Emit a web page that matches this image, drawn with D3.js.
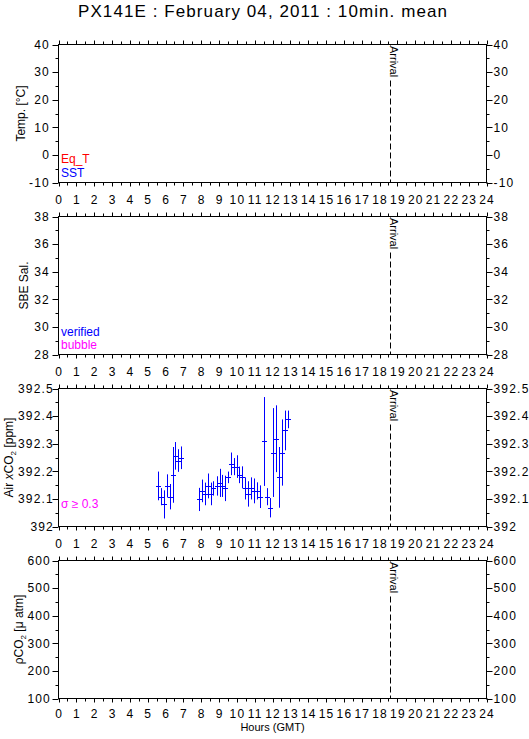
<!DOCTYPE html>
<html><head><meta charset="utf-8">
<script src="https://cdn.jsdelivr.net/npm/d3@7/dist/d3.min.js"></script>
<style>
body{margin:0;background:#fff}
svg text{font-family:"Liberation Sans",Arial,Helvetica,sans-serif}
</style>
</head><body>
<svg id="c" width="529" height="739"></svg>
<script>
// ---- data ----
const titleText = "PX141E : February 04, 2011 : 10min. mean";
const hourTicks = d3.range(0, 25);
const arrivalHour = 18.6;

const tempTicks = [-10, 0, 10, 20, 30, 40];
const salTicks = [28, 30, 32, 34, 36, 38];
const xco2Ticks = [392, 392.1, 392.2, 392.3, 392.4, 392.5];
const xco2TickLabels = ["392", "392.1", "392.2", "392.3", "392.4", "392.5"];
const pco2Ticks = [100, 200, 300, 400, 500, 600];

const xco2Hours = [5.58, 5.74, 5.89, 6.07, 6.23, 6.40, 6.55, 6.71, 6.86,
  7.89, 8.06, 8.21, 8.37, 8.54, 8.69, 8.86, 9.03, 9.19, 9.36, 9.51,
  9.68, 9.85, 10.00, 10.14, 10.31, 10.48, 10.65, 10.80, 10.97, 11.11,
  11.28, 11.54, 11.69, 11.86, 12.03, 12.20, 12.35, 12.55, 12.70, 12.87];
const xco2Values = [392.147, 392.108, 392.080, 392.147, 392.108, 392.187, 392.256, 392.239, 392.249,
  392.098, 392.129, 392.118, 392.147, 392.118, 392.138, 392.147, 392.158, 392.147, 392.138, 392.178,
  392.227, 392.217, 392.217, 392.187, 392.178, 392.138, 392.118, 392.138, 392.129, 392.129,
  392.108, 392.308, 392.108, 392.068, 392.268, 392.318, 392.178, 392.268, 392.348, 392.388];
const xco2Errors = [0.052, 0.031, 0.051, 0.042, 0.046, 0.101, 0.050, 0.041, 0.041,
  0.042, 0.041, 0.041, 0.045, 0.041, 0.026, 0.035, 0.051, 0.040, 0.046, 0.021,
  0.041, 0.031, 0.041, 0.030, 0.040, 0.040, 0.046, 0.040, 0.045, 0.031,
  0.041, 0.161, 0.031, 0.035, 0.161, 0.121, 0.110, 0.120, 0.072, 0.032];

// ---- layout ----
const svg = d3.select("#c");
const left = 58.5, right = 486.5, ph = 138;
const x = d3.scaleLinear().domain([0, 24]).range([left, right]);
const fmt = v => String(+v.toFixed(1));

const panels = [
  {top: 44.5, ticks: tempTicks, labels: tempTicks.map(fmt), minor: 5, title: "Temp. [°C]", titleX: 25, labelRight: 50, xlab: 21},
  {top: 216.5, ticks: salTicks, labels: salTicks.map(fmt), minor: 1, title: "SBE Sal.", titleX: 28, labelRight: 50, xlab: 21},
  {top: 388.5, ticks: xco2Ticks, labels: xco2TickLabels, minor: 0.05, title: "xco2", titleX: 12.5, labelRight: 54, xlab: 21},
  {top: 560.5, ticks: pco2Ticks, labels: pco2Ticks.map(fmt), minor: 50, title: "pco2", titleX: 23, labelRight: 51, xlab: 19}
];

svg.append("text").attr("x", 262.5).attr("y", 17).attr("text-anchor", "middle")
  .attr("font-size", 17).attr("textLength", 369).attr("lengthAdjust", "spacing")
  .text(titleText);

panels.forEach((p, i) => {
  const bottom = p.top + ph;
  const lo = p.ticks[0], hi = p.ticks[p.ticks.length - 1];
  const y = d3.scaleLinear().domain([lo, hi]).range([bottom, p.top]);
  p.y = y;
  const g = svg.append("g");
  g.append("rect").attr("x", left).attr("y", p.top).attr("width", right - left).attr("height", ph)
    .attr("fill", "none").attr("stroke", "#000").attr("stroke-width", 1);

  // x ticks (half-hour), outward on top and bottom
  const xt = d3.range(0, 24.01, 0.5);
  xt.forEach(h => {
    const len = (Math.abs(h - Math.round(h)) < 1e-6) ? 4 : 3;
    const xx = Math.round(x(h)) + 0.5;
    g.append("line").attr("x1", xx).attr("x2", xx).attr("y1", p.top).attr("y2", p.top - len).attr("stroke", "#000");
    g.append("line").attr("x1", xx).attr("x2", xx).attr("y1", bottom).attr("y2", bottom + len).attr("stroke", "#000");
  });
  hourTicks.forEach(h => {
    g.append("text").attr("x", x(h) + 0.6).attr("y", bottom + p.xlab).attr("text-anchor", "middle")
      .attr("font-size", 12).attr("letter-spacing", "1.2px").text(h);
  });

  // y ticks
  const yt = d3.range(lo, hi + p.minor / 2, p.minor);
  yt.forEach(v => {
    const major = p.ticks.some(t => Math.abs(t - v) < p.minor / 10);
    const len = major ? 6 : 3;
    const yy = Math.round(y(v)) + 0.5;
    g.append("line").attr("x1", left).attr("x2", left - len).attr("y1", yy).attr("y2", yy).attr("stroke", "#000");
    g.append("line").attr("x1", right).attr("x2", right + len).attr("y1", yy).attr("y2", yy).attr("stroke", "#000");
  });
  p.ticks.forEach((t, k) => {
    g.append("text").attr("x", p.labelRight).attr("y", y(t)).attr("dy", "0.35em").attr("text-anchor", "end")
      .attr("font-size", 12).attr("letter-spacing", "1.2px").text(p.labels[k]);
    g.append("text").attr("x", right + 7).attr("y", y(t)).attr("dy", "0.35em").attr("text-anchor", "start")
      .attr("font-size", 12).attr("letter-spacing", "1.2px").text(p.labels[k]);
  });

  // axis title
  const cy = p.top + ph / 2;
  const tt = g.append("text").attr("transform", `translate(${p.titleX},${cy}) rotate(-90)`)
    .attr("text-anchor", "middle").attr("font-size", 12);
  if (p.title === "xco2") {
    tt.append("tspan").text("Air ");
    tt.append("tspan").attr("font-style", "italic").text("x");
    tt.append("tspan").text("CO");
    tt.append("tspan").attr("font-size", 8).attr("dy", 3).text("2");
    tt.append("tspan").attr("dy", -3).text(" [ppm]");
  } else if (p.title === "pco2") {
    tt.append("tspan").text("ρCO");
    tt.append("tspan").attr("font-size", 8).attr("dy", 3).text("2");
    tt.append("tspan").attr("dy", -3).text(" [μ atm]");
  } else {
    tt.text(p.title);
  }

  // arrival
  const ax = Math.round(x(arrivalHour)) + 0.5;
  g.append("line").attr("x1", ax).attr("x2", ax).attr("y1", p.top).attr("y2", bottom)
    .attr("stroke", "#000").attr("stroke-dasharray", "6,3");
  g.append("rect").attr("x", ax - 0.5).attr("y", p.top + 1).attr("width", 8).attr("height", 34).attr("fill", "#fff");
  g.append("text").attr("transform", `translate(${ax - 0.5},${p.top + 1.5}) rotate(90)`)
    .attr("font-size", 11).attr("text-anchor", "start").text("Arrival");
});

// legends
svg.append("text").attr("x", 61).attr("y", 162.5).attr("font-size", 12).attr("fill", "#ff0000").text("Eq_T");
svg.append("text").attr("x", 61).attr("y", 176.5).attr("font-size", 12).attr("fill", "#0000ff").text("SST");
svg.append("text").attr("x", 61).attr("y", 336).attr("font-size", 12).attr("fill", "#0000ff").text("verified");
svg.append("text").attr("x", 61).attr("y", 349).attr("font-size", 12).attr("fill", "#ff00ff").text("bubble");
svg.append("text").attr("x", 61).attr("y", 507.5).attr("font-size", 12).attr("fill", "#ff00ff").text("σ ≥ 0.3");

// xCO2 error bars
const yx = panels[2].y;
const eb = svg.append("g").attr("stroke", "#0000ff").attr("stroke-width", 1);
xco2Hours.forEach((h, i) => {
  const cx = Math.round(x(h)) + 0.5;
  eb.append("line").attr("x1", cx).attr("x2", cx)
    .attr("y1", yx(xco2Values[i] + xco2Errors[i])).attr("y2", yx(xco2Values[i] - xco2Errors[i]));
  const yy = Math.round(yx(xco2Values[i])) + 0.5;
  eb.append("line").attr("x1", cx - 2.5).attr("x2", cx + 2.5).attr("y1", yy).attr("y2", yy);
});

svg.append("text").attr("x", 272.5).attr("y", 731).attr("text-anchor", "middle").attr("font-size", 11).text("Hours (GMT)");
</script>
</body></html>
